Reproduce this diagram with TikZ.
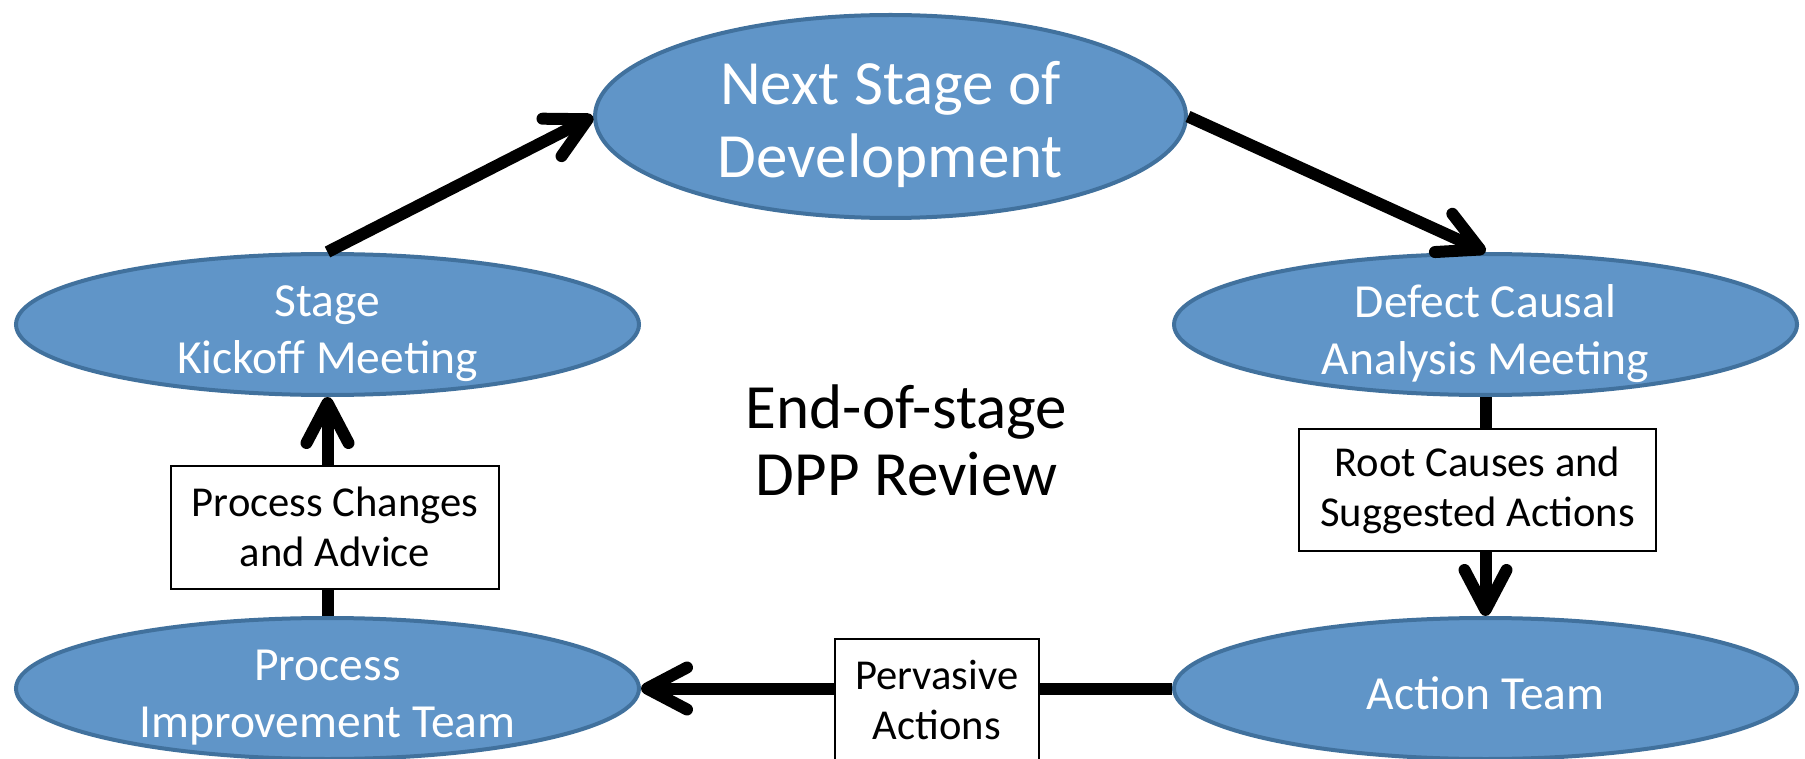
\documentclass[tikz,border=0pt]{standalone}
\usepackage{fontspec}
\setmainfont{Carlito}
\usetikzlibrary{shapes.geometric,arrows.meta}
\definecolor{ellfill}{RGB}{96,149,200}
\definecolor{ellline}{RGB}{65,113,157}

\begin{document}
\begin{tikzpicture}[x=0.5pt,y=-0.5pt,
  ellip/.style={ellipse, draw=ellline, fill=ellfill, line width=2pt,
    inner sep=0pt, minimum width=311.5pt, minimum height=70.5pt},
  etext/.style={text=white, font=\fontsize{23.75}{28.5}\selectfont,
    align=center, inner sep=0pt},
  ttext/.style={text=white, font=\fontsize{31.5}{36.5}\selectfont,
    align=center, inner sep=0pt},
  lbl/.style={draw=black, fill=white, line width=1pt, inner sep=0pt,
    align=center, font=\fontsize{21.3}{25}\selectfont},
  conn/.style={line width=6pt, draw=black},
  arr/.style={conn, -{Straight Barb[round, length=20pt, width=21pt]}}
]
\useasboundingbox (0,0) rectangle (1805,759);

% process stages
\node[ellip, minimum width=295.5pt, minimum height=101.5pt,
  label={[ttext, yshift=-4pt]center:{Next Stage of\\Development}}]
  (next) at (890.5,116.5) {};
\node[ellip, label={[etext, yshift=-4.5pt]center:{Stage\\Kickoff Meeting}}]
  (kick) at (327.5,324.5) {};
\node[ellip, label={[etext, yshift=-4.5pt]center:{Defect Causal\\Analysis Meeting}}]
  (defect) at (1485.5,324.5) {};
\node[ellip, label={[etext, yshift=-4.5pt]center:{Process\\Improvement Team}}]
  (pit) at (327.5,688.5) {};
\node[ellip, label={[etext, yshift=-2.5pt]center:{Action Team}}]
  (action) at (1485.5,688.5) {};

% centre title
\node[align=center, inner sep=0pt, font=\fontsize{31.5}{33.5}\selectfont]
  (title) at (906.5,440) {End-of-stage\\DPP Review};

% flow of the cycle
\draw[arr] (kick.north) -- (next.west);
\draw[arr] (next.east) -- (defect.north);
\draw[arr] (defect.south) --
  node[lbl, pos=0.426, xshift=-4pt, minimum width=178.5pt, minimum height=61pt]
  (rc) {Root Causes and\\Suggested Actions} (action.north);
\draw[arr] (action.west) --
  node[lbl, pos=0.443, yshift=-5.75pt, minimum width=102pt, minimum height=61pt]
  (pa) {Pervasive\\Actions} (pit.east);
\draw[arr] (pit.north) --
  node[lbl, pos=0.406, xshift=3.75pt, minimum width=164pt, minimum height=61.5pt]
  (pc) {Process Changes\\and Advice} (kick.south);
\end{tikzpicture}
\end{document}
